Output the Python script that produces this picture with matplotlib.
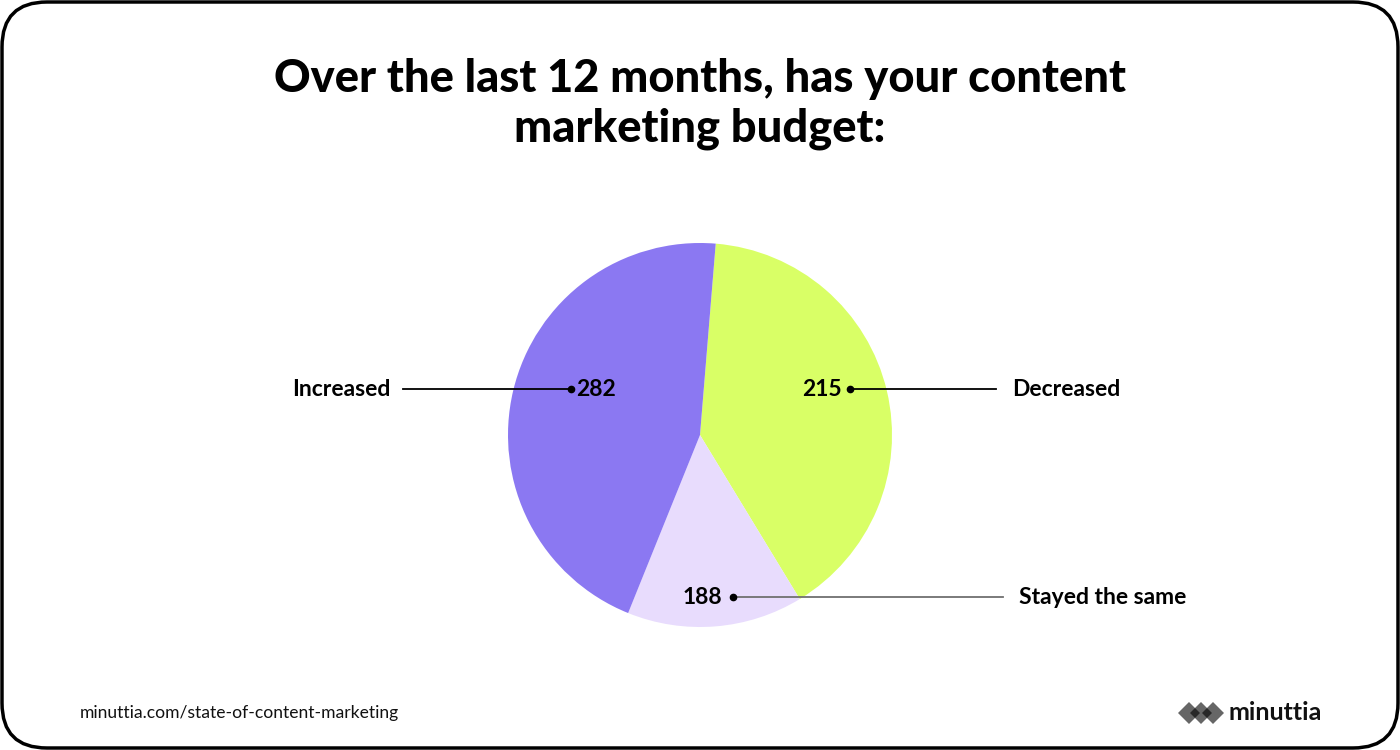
import matplotlib
matplotlib.use('agg')
import matplotlib.pyplot as plt
from matplotlib.patches import FancyBboxPatch, Polygon

# slices in the order drawn (clockwise from top)
categorias = ["Decreased", "Stayed the same", "Increased"]
respostas = [215, 188, 282]          # numbers printed on the chart
fatias = [40.0, 14.8, 45.2]          # slice share (%)
cores = ["#d9ff66", "#e8dcfd", "#8b78f2"]

titulo = "Over the last 12 months, has your content\nmarketing budget:"
rodape = "minuttia.com/state-of-content-marketing"

plt.rcParams['font.family'] = ['Lato', 'DejaVu Sans']

fig = plt.figure(figsize=(14, 7.5), dpi=100)

# fundo com a borda arredondada
fundo = fig.add_axes([0, 0, 1, 1])
fundo.set_xlim(0, 1400)
fundo.set_ylim(750, 0)
fundo.axis('off')
borda = FancyBboxPatch((2, 2), 1396, 746, boxstyle="round,pad=0,rounding_size=45",
                       fc='white', ec='black', lw=2.5)
fundo.add_patch(borda)

# pizza
ax = fig.add_axes([508 / 1400, (750 - 627) / 750, 384 / 1400, 384 / 750])
ax.pie(fatias, colors=cores, startangle=85.3, counterclock=False,
       wedgeprops=dict(linewidth=0))
ax.set_xlim(-1, 1)
ax.set_ylim(-1, 1)
ax.set_aspect('equal')

# camada de cima em pixels para textos e linhas
bg = fig.add_axes([0, 0, 1, 1])
bg.set_xlim(0, 1400)
bg.set_ylim(750, 0)
bg.axis('off')
bg.patch.set_alpha(0)

bg.text(700, 104, titulo, ha='center', va='center', fontsize=32.6, fontweight='black',
        linespacing=1.25)

# rotulos (ponto, linha, numero, categoria)
rotulos = {
    "Increased": dict(ponto=(571, 389), fim=403, num_x=576, num_ha='left', cat_x=390, cat_ha='right', cor='black'),
    "Decreased": dict(ponto=(850, 389), fim=996, num_x=842, num_ha='right', cat_x=1012, cat_ha='left', cor='black'),
    "Stayed the same": dict(ponto=(733, 597), fim=1003, num_x=722, num_ha='right', cat_x=1019, cat_ha='left', cor='#707070'),
}
for cat, n in zip(categorias, respostas):
    r = rotulos[cat]
    px, py = r['ponto']
    bg.plot([px, r['fim']], [py, py], color=r['cor'], lw=1.3, zorder=3)
    bg.plot(px, py, 'o', color='black', ms=4.5, zorder=4)
    bg.text(r['num_x'], py, str(n), ha=r['num_ha'], va='center', fontsize=16.5,
            fontweight='bold', zorder=5)
    bg.text(r['cat_x'], py, cat, ha=r['cat_ha'], va='center', fontsize=16.5,
            fontweight='bold', zorder=5)

bg.text(80, 713, rodape, ha='left', va='center', fontsize=12.6, color='#111111')

# logo
for cx in [1189, 1201, 1213]:
    d = Polygon([(cx - 11, 713), (cx, 702), (cx + 11, 713), (cx, 724)],
                closed=True, fc='black', alpha=0.6, lw=0)
    bg.add_patch(d)
bg.text(1228, 712, "minuttia", ha='left', va='center', fontsize=18, fontweight='bold',
        color='#111111')

fig.savefig('out.png', dpi=100)
